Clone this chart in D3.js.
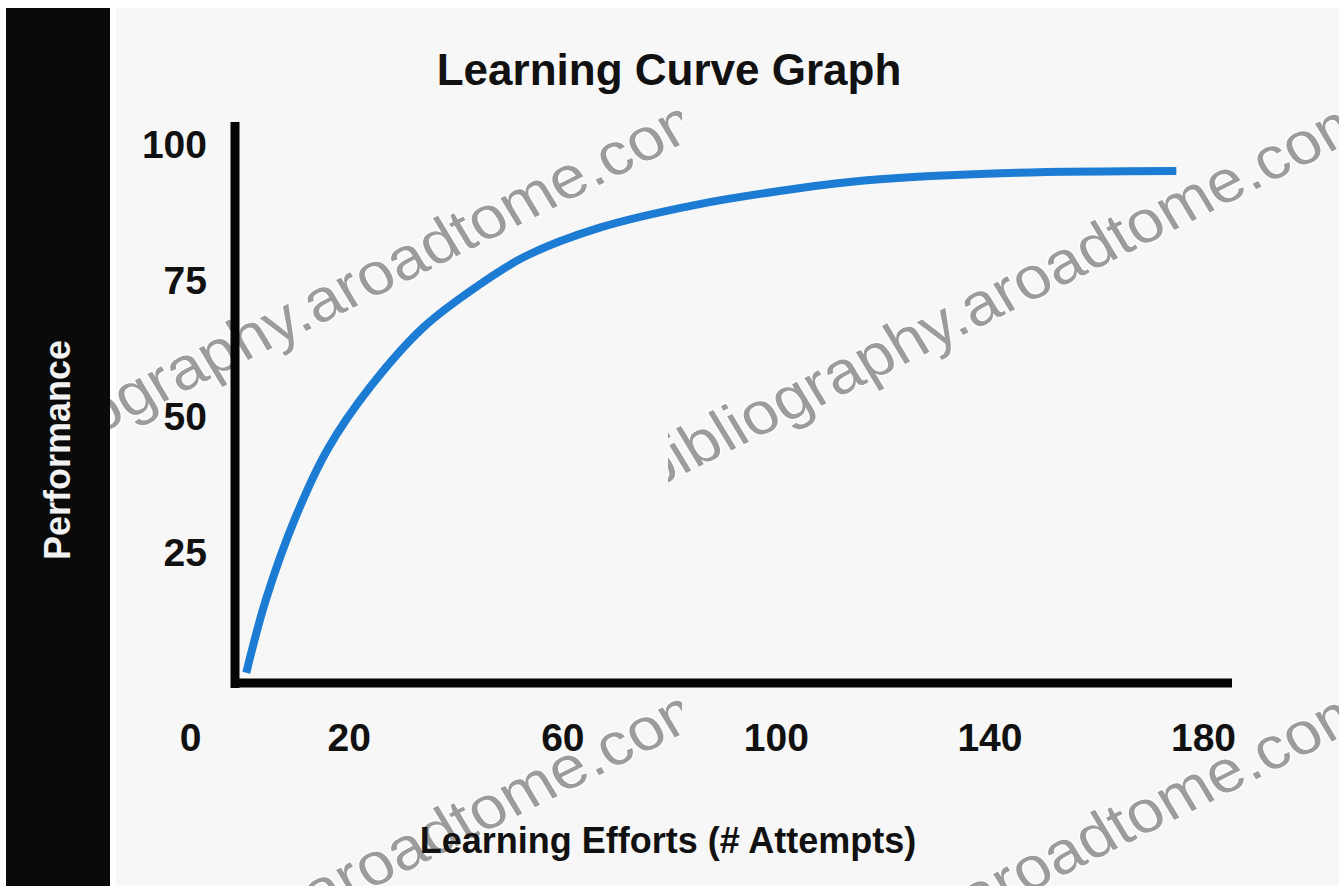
<!DOCTYPE html>
<html>
<head>
<meta charset="utf-8">
<script src="https://cdn.jsdelivr.net/npm/d3@7"></script>
<style>
  html, body { margin: 0; padding: 0; background: #fff; }
  svg { display: block; font-family: "Liberation Sans", Arial, sans-serif; }
</style>
</head>
<body>
<svg id="chart" width="1339" height="886"></svg>
<script>
// Learning curve values
const attempts    = [0.8, 4.5, 10, 16, 24, 34, 44, 53, 67, 85, 104, 117, 142, 175];
const performance = [3, 16.5, 31.5, 44, 55.5, 66.5, 74, 79.5, 84.8, 89, 92, 93.5, 94.8, 95.2];

// Tick labels
const xTicks = [0, 20, 60, 100, 140, 180];
const yTicks = [25, 50, 75, 100];

const title = "Learning Curve Graph";
const xTitle = "Learning Efforts (# Attempts)";
const yTitle = "Performance";
const watermark = "bibliography.aroadtome.com";

const svg = d3.select("#chart");
const W = +svg.attr("width"), H = +svg.attr("height");

// Scales
const x = d3.scaleLinear().domain([0, 180]).range([242, 1203]);
const y = d3.scaleLinear().domain([0, 100]).range([689, 145]);

// Background: white frame, grey panel
svg.append("rect").attr("width", W).attr("height", H).attr("fill", "#ffffff");
svg.append("rect").attr("x", 116).attr("y", 8).attr("width", W - 116).attr("height", H - 8).attr("fill", "#f7f7f7");

// Watermarks (faint rotated text), clipped to their tiles
const defs = svg.append("defs");
defs.append("clipPath").attr("id", "clipL").append("rect")
  .attr("x", 110).attr("y", 0).attr("width", 572).attr("height", H);
defs.append("clipPath").attr("id", "clipR").append("rect")
  .attr("x", 668).attr("y", 0).attr("width", W - 668).attr("height", H);

const marks = [
  { x: -7, y: 487, clip: "clipL" },
  { x: -7, y: 1077, clip: "clipL" },
  { x: 650, y: 491, clip: "clipR" },
  { x: 650, y: 1081, clip: "clipR" }
];
marks.forEach(m => {
  svg.append("g").attr("clip-path", `url(#${m.clip})`)
    .append("text")
    .attr("transform", `translate(${m.x},${m.y}) scale(1.1,1) rotate(-28.7)`)
    .attr("font-size", 60)
    .attr("fill", "#9c9c9c")
    .attr("stroke", "#ffffff")
    .attr("stroke-width", 2)
    .attr("paint-order", "stroke")
    .text(watermark);
});

// Black side band
svg.append("rect").attr("x", 6).attr("y", 8).attr("width", 104).attr("height", H - 8).attr("fill", "#0a0a0a");

// Title
svg.append("text")
  .attr("x", 669).attr("y", 85)
  .attr("text-anchor", "middle")
  .attr("font-size", 44).attr("font-weight", "bold").attr("fill", "#111")
  .text(title);

// Axis lines
svg.append("line")
  .attr("x1", 235).attr("x2", 235).attr("y1", 122).attr("y2", 688)
  .attr("stroke", "#050505").attr("stroke-width", 9);
svg.append("line")
  .attr("x1", 231).attr("x2", 1232).attr("y1", 683).attr("y2", 683)
  .attr("stroke", "#050505").attr("stroke-width", 9);

// Tick labels via d3 axes
const xAxis = svg.append("g")
  .attr("transform", "translate(0,683)")
  .call(d3.axisBottom(x).tickValues(xTicks).tickSize(0).tickPadding(40).tickFormat(d3.format("d")));
xAxis.select(".domain").remove();
xAxis.selectAll("text")
  .attr("font-size", 39).attr("font-weight", "bold").attr("fill", "#111")
  .attr("font-family", "Liberation Sans, Arial, sans-serif")
  .attr("dx", d => d === 0 ? -52 : 0);

const yAxis = svg.append("g")
  .attr("transform", "translate(235,0)")
  .call(d3.axisLeft(y).tickValues(yTicks).tickSize(0).tickPadding(28));
yAxis.select(".domain").remove();
yAxis.selectAll("text")
  .attr("font-size", 39).attr("font-weight", "bold").attr("fill", "#111")
  .attr("font-family", "Liberation Sans, Arial, sans-serif");

// Axis titles
svg.append("text")
  .attr("x", 668).attr("y", 853)
  .attr("text-anchor", "middle")
  .attr("font-size", 36).attr("font-weight", "bold").attr("fill", "#111")
  .text(xTitle);

svg.append("text")
  .attr("transform", "translate(70,450) rotate(-90)")
  .attr("text-anchor", "middle")
  .attr("font-size", 36).attr("font-weight", "bold").attr("fill", "#f2f2f2")
  .text(yTitle);

// The curve
const pts = attempts.map((a, i) => ({ a: a, p: performance[i] }));
const line = d3.line()
  .x(d => x(d.a))
  .y(d => y(d.p))
  .curve(d3.curveCatmullRom.alpha(0.5));

svg.append("path")
  .datum(pts)
  .attr("d", line)
  .attr("fill", "none")
  .attr("stroke", "#1c7cd4")
  .attr("stroke-width", 8);
</script>
</body>
</html>
